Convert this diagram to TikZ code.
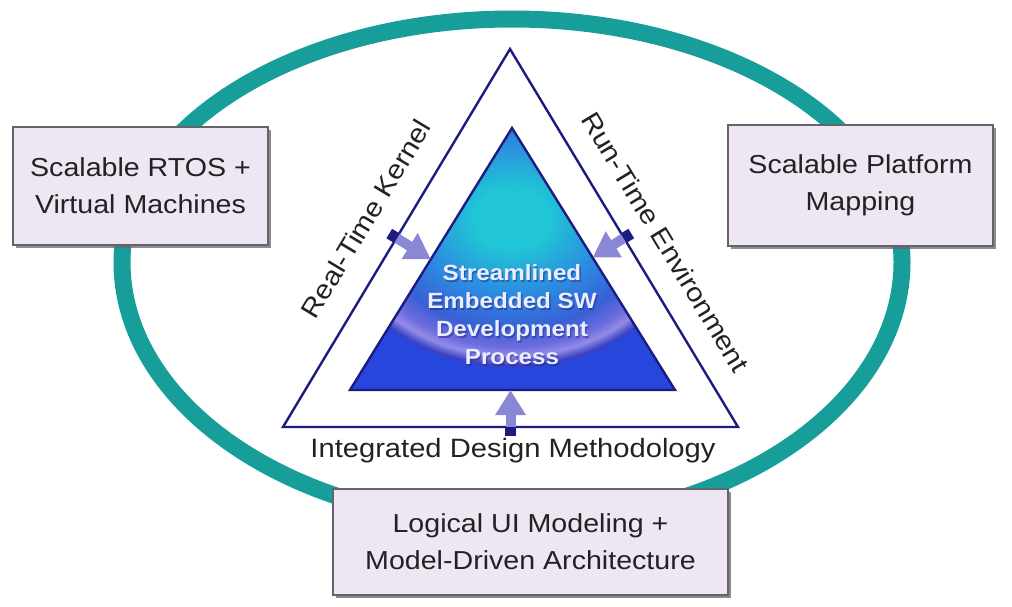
\documentclass[tikz,border=0pt]{standalone}
\usepackage{fontspec}
\setmainfont{Liberation Sans}[FakeStretch=1.1]
\setsansfont{Liberation Sans}[FakeStretch=1.1]
\usetikzlibrary{calc,arrows.meta,shadows}

\definecolor{ringteal}{RGB}{24,158,154}
\definecolor{navy}{RGB}{28,28,128}
\definecolor{boxfill}{RGB}{238,230,242}
\definecolor{boxline}{RGB}{100,100,106}
\definecolor{arrowlav}{RGB}{138,135,214}
\definecolor{textgray}{RGB}{34,34,34}
\definecolor{coretext}{RGB}{234,238,255}
% colours of the glowing core
\definecolor{glowA}{RGB}{32,198,214}
\definecolor{glowB}{RGB}{44,140,224}
\definecolor{glowC}{RGB}{56,96,214}
\definecolor{glowD}{RGB}{110,108,222}
\definecolor{glowE}{RGB}{146,140,230}
\definecolor{glowF}{RGB}{58,66,196}
\definecolor{glowG}{RGB}{38,70,220}

% the path's own outline sits at 25bp of a TikZ shading
\pgfdeclareradialshading{coreglow}{\pgfpointorigin}{%
  color(0bp)=(glowA); color(5bp)=(glowA); color(12.5bp)=(glowB);
  color(18.5bp)=(glowC); color(21.5bp)=(glowD); color(23bp)=(glowE);
  color(24.5bp)=(glowF); color(25.5bp)=(glowG); color(50bp)=(glowG)}

\begin{document}
\begin{tikzpicture}[x=1pt,y=-1pt,
  infobox/.style={draw=boxline, line width=1.3pt, fill=boxfill, inner sep=0pt,
    align=center, text=textgray, font=\fontsize{26}{37}\selectfont,
    drop shadow={shadow xshift=2.5pt, shadow yshift=-3pt, fill=black!60, opacity=0.75}},
  sidelabel/.style={text=textgray, font=\fontsize{26.5}{31}\selectfont, inner sep=0pt},
  tri/.style={draw=navy, line width=2.4pt, line join=miter},
  pusharrow/.style={arrowlav, line width=10pt, -{Triangle[width=29pt,length=25pt]}},
  marker/.style={fill=navy, minimum width=11pt, minimum height=9pt, inner sep=0pt}]

\useasboundingbox (0,0) rectangle (1012,607);

% teal ring around everything
\draw[ringteal, line width=17pt]
  (122,262) arc[start angle=180, end angle=0, x radius=390pt, y radius=243pt]
            arc[start angle=0, end angle=-180, x radius=390pt, y radius=262pt] -- cycle;

% the three boxes
\node[infobox, minimum width=255pt, minimum height=118pt] (rtos) at (140.5,186)
  {Scalable RTOS +\\Virtual Machines};
\node[infobox, minimum width=265pt, minimum height=121pt] (platform) at (860.5,185.5)
  {Scalable Platform\\Mapping};
\node[infobox, minimum width=395pt, minimum height=106pt] (modeling) at (530.5,542)
  {Logical UI Modeling +\\Model-Driven Architecture};

% outer triangle
\coordinate (oA) at (510,49);
\coordinate (oB) at (283,427);
\coordinate (oC) at (738,427);
\draw[tri, fill=white] (oA) -- (oB) -- (oC) -- cycle;

% inner shaded triangle
\coordinate (iA) at (512,128);
\coordinate (iB) at (350,390);
\coordinate (iC) at (675,390);
\begin{scope}
  \clip (iA) -- (iB) -- (iC) -- cycle;
  \fill[glowG] (330,110) rectangle (700,400);
  \shade[shading=coreglow] (512,218) ellipse [x radius=185, y radius=150];
\end{scope}
\draw[tri] (iA) -- (iB) -- (iC) -- cycle;

\node[text=navy, opacity=0.45, align=center, inner sep=0pt,
      font=\bfseries\fontsize{22}{28}\selectfont] (coreshade) at (513.3,316.5)
  {Streamlined\\Embedded SW\\Development\\Process};
\node[text=coretext, align=center, inner sep=0pt,
      font=\bfseries\fontsize{22}{28}\selectfont] (core) at (512,315)
  {Streamlined\\Embedded SW\\Development\\Process};

% arrows pushing in from the middle of each outer side
\coordinate (mL) at ($(oB)!0.5!(oA)$);
\coordinate (mR) at ($(oA)!0.5!(oC)$);
\coordinate (mB) at ($(oB)!0.5!(oC)$);
\coordinate (tL) at ($(iB)!(mL)!(iA)$);
\coordinate (tR) at ($(iA)!(mR)!(iC)$);
\coordinate (tB) at ($(iB)!(mB)!(iC)$);
\draw[pusharrow] (mL) -- (tL);
\draw[pusharrow] (mR) -- (tR);
\draw[pusharrow] (mB) -- (tB);
\node[marker, rotate=59] (markL) at (393.1,235.9) {};
\node[marker, rotate=-59] (markR) at (627.4,235.9) {};
\node[marker] (markB) at (510.5,431) {};

% side labels
\node[sidelabel, rotate=59] (kernel) at (366,219) {Real-Time Kernel};
\node[sidelabel, rotate=-58.9] (runtime) at (665.5,242) {Run-Time Environment};
\node[sidelabel] (method) at (513,451) {Integrated Design Methodology};

\end{tikzpicture}
\end{document}
